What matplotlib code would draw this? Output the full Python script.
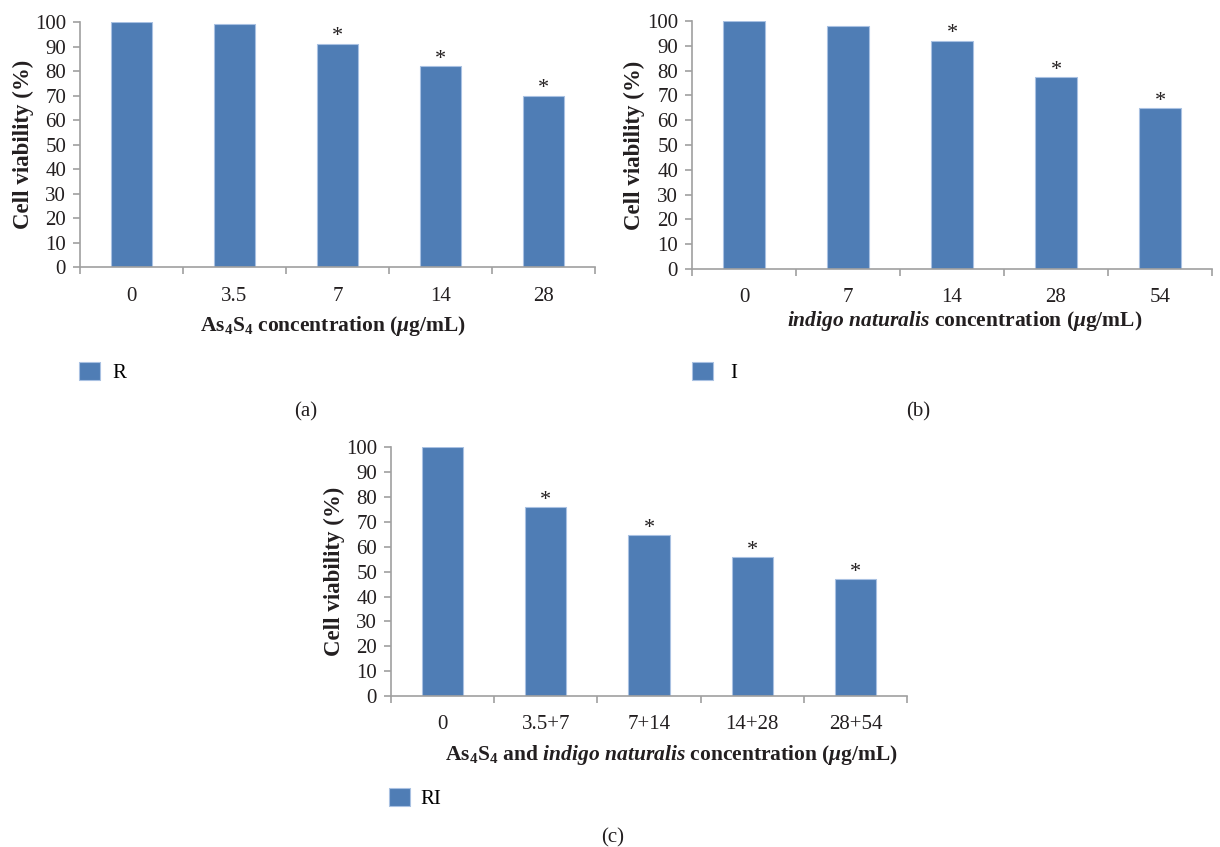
import matplotlib
matplotlib.use('Agg')
import matplotlib.pyplot as plt

# fontes
plt.rcParams['font.family'] = ['Liberation Serif', 'DejaVu Serif']
plt.rcParams['mathtext.fontset'] = 'custom'
plt.rcParams['mathtext.rm'] = 'Liberation Serif:bold'
plt.rcParams['mathtext.it'] = 'Liberation Serif:italic:bold'
plt.rcParams['mathtext.bf'] = 'Liberation Serif:bold'

# dados
labels_r = ['0', '3.5', '7', '14', '28']
values_r = [100, 99, 91.2, 81.9, 70]
stars_r = [False, False, True, True, True]

labels_i = ['0', '7', '14', '28', '54']
values_i = [100, 98, 92.1, 77.3, 64.9]
stars_i = [False, False, True, True, True]

labels_ri = ['0', '3.5+7', '7+14', '14+28', '28+54']
values_ri = [100, 75.8, 64.7, 55.9, 47.1]
stars_ri = [False, True, True, True, True]

bar_color = '#4f7db5'
edge_color = '#a9c1e2'
axis_color = '#a0a0a0'
text_color = '#231f20'
tick_size = 15
label_size = 15.5


def painel(ax, labels, values, stars, series):
    x = list(range(len(labels)))
    bars = ax.bar(x, values, width=0.4, color=bar_color, edgecolor=edge_color,
                  linewidth=0.8, label=series, zorder=2)
    for i in x:
        if stars[i]:
            ax.annotate('*', (i, values[i]), xytext=(0, -2), textcoords='offset points',
                        ha='center', va='bottom', fontsize=16, color=text_color)
    ax.set_xlim(-0.5, len(labels) - 0.5)
    ax.set_ylim(0, 100)
    ax.set_yticks(range(0, 101, 10))
    ax.set_xticks(x)
    ax.set_xticklabels(labels)
    ax.set_xticks([i - 0.5 for i in range(len(labels) + 1)], minor=True)
    ax.tick_params(axis='x', which='major', length=0, pad=14, labelsize=tick_size, labelcolor=text_color)
    ax.tick_params(axis='x', which='minor', length=5, width=1.2, color=axis_color, direction='out')
    ax.tick_params(axis='y', length=5, width=1.2, color=axis_color, direction='out',
                   pad=5, labelsize=tick_size, labelcolor=text_color)
    for s in ['top', 'right']:
        ax.spines[s].set_visible(False)
    for s in ['left', 'bottom']:
        ax.spines[s].set_color(axis_color)
        ax.spines[s].set_linewidth(1.2)
    ax.set_ylabel('Cell viability (%)', fontsize=16.5, fontweight='bold', color=text_color)
    ax.yaxis.set_label_coords(-0.09, 0.5)
    return bars


def legenda(ax, x, y, pad):
    ax.legend(loc='center left', bbox_to_anchor=(x / W, 1 - y / H), bbox_transform=fig.transFigure,
              frameon=False, fontsize=tick_size, handlelength=1.0, handleheight=1.0,
              handletextpad=pad, borderpad=0, borderaxespad=0)


fig = plt.figure(figsize=(12.2, 8.47), dpi=100)
W, H = 1220.0, 847.0

# (a)
ax1 = fig.add_axes([80 / W, 1 - 267.3 / H, 515 / W, 245.3 / H])
painel(ax1, labels_r, values_r, stars_r, 'R')
fig.text(333 / W, 1 - 326 / H, r'As$_\mathrm{4}$S$_\mathrm{4}$ concentration ($\mu$g/mL)',
         ha='center', va='center', fontsize=label_size, fontweight='bold', color=text_color)
legenda(ax1, 79, 372.5, 0.62)
fig.text(306 / W, 1 - 412 / H, '(a)', ha='center', va='center', fontsize=tick_size, color=text_color)

# (b)
ax2 = fig.add_axes([692 / W, 1 - 269 / H, 520 / W, 248 / H])
painel(ax2, labels_i, values_i, stars_i, 'I')
fig.text(965 / W, 1 - 321 / H, r'$\mathit{indigo\ naturalis}$ concentration ($\mu$g/mL)',
         ha='center', va='center', fontsize=label_size, fontweight='bold', color=text_color)
legenda(ax2, 692, 372.5, 0.85)
fig.text(918 / W, 1 - 412 / H, '(b)', ha='center', va='center', fontsize=tick_size, color=text_color)

# (c)
ax3 = fig.add_axes([391 / W, 1 - 696 / H, 516 / W, 248.7 / H])
painel(ax3, labels_ri, values_ri, stars_ri, 'RI')
fig.text(672 / W, 1 - 755 / H,
         r'As$_\mathrm{4}$S$_\mathrm{4}$ and $\mathit{indigo\ naturalis}$ concentration ($\mu$g/mL)',
         ha='center', va='center', fontsize=label_size, fontweight='bold', color=text_color)
legenda(ax3, 389, 798.5, 0.5)
fig.text(613 / W, 1 - 838 / H, '(c)', ha='center', va='center', fontsize=tick_size, color=text_color)

plt.savefig('out.png', dpi=100)
